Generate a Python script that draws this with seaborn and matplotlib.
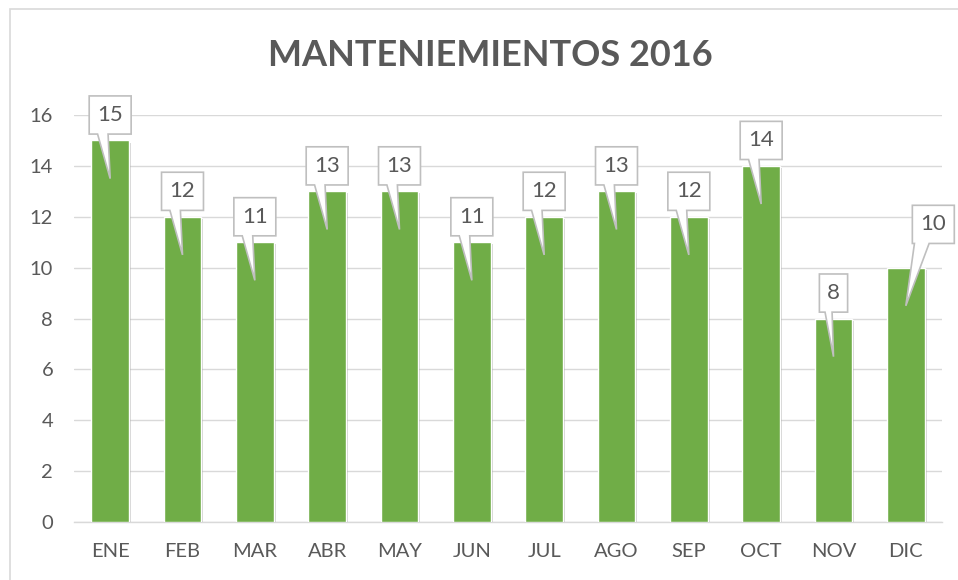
import matplotlib
matplotlib.use("Agg")
import matplotlib.pyplot as plt
import matplotlib.patheffects as pe
from matplotlib.patches import Polygon, Rectangle
import seaborn as sns
import pandas as pd

months = ["ENE", "FEB", "MAR", "ABR", "MAY", "JUN", "JUL", "AGO", "SEP", "OCT", "NOV", "DIC"]
values = [15, 12, 11, 13, 13, 11, 12, 13, 12, 14, 8, 10]
title = "MANTENIEMIENTOS 2016"
yticks = [0, 2, 4, 6, 8, 10, 12, 14, 16]

sns.set_theme(style="white")
plt.rcParams['font.family'] = ['Lato', 'DejaVu Sans']

GREEN = "#70AD47"
GRAY_TXT = "#595959"
GRID = "#D9D9D9"

fig = plt.figure(figsize=(9.58, 5.80), dpi=100)
W, H = 958, 580
ax = fig.add_axes([74 / W, 58 / H, 868 / W, 407 / H])

df = pd.DataFrame({"mes": months, "valor": values})
sns.barplot(data=df, x="mes", y="valor", color=GREEN, width=0.52, ax=ax,
            saturation=1, zorder=3)

for p in ax.patches:
    p.set_path_effects([pe.SimplePatchShadow(offset=(1.5, -1.5), shadow_rgbFace="#7f7f7f", alpha=0.35),
                        pe.Normal()])

ax.set_xlim(-0.5, len(months) - 0.5)
ax.set_ylim(0, 16)
ax.set_yticks(yticks)
ax.yaxis.grid(True, color=GRID, linewidth=1, zorder=0)
ax.set_axisbelow(True)
for s in ["top", "right", "left"]:
    ax.spines[s].set_visible(False)
ax.spines["bottom"].set_color(GRID)
ax.spines["bottom"].set_linewidth(1)
ax.tick_params(axis="both", length=0, colors=GRAY_TXT, labelsize=14.5)
ax.tick_params(axis="y", pad=15)
ax.tick_params(axis="x", pad=15)
ax.set_xlabel("")
ax.set_ylabel("")

# callouts
for i, v in enumerate(values):
    label = str(v)
    bw = 0.58 if len(label) > 1 else 0.39
    bh = 1.5
    dx = 0.38 if i == len(values) - 1 else 0.0
    dy = 1.7 if i == len(values) - 1 else 1.0
    cx = i + dx
    cy = v + dy
    x0, x1 = cx - bw / 2, cx + bw / 2
    y0, y1 = cy - bh / 2, cy + bh / 2
    if i == len(values) - 1:
        b1, b2 = x0 + 0.05 * bw, x0 + 0.40 * bw
    else:
        b1, b2 = x0 + 0.20 * bw, x0 + 0.45 * bw
    tip = (i, v - 1.5)
    verts = [(x0, y1), (x1, y1), (x1, y0), (b2, y0), tip, (b1, y0), (x0, y0)]
    poly = Polygon(verts, closed=True, facecolor="white", edgecolor="#BFBFBF",
                   linewidth=1.2, zorder=5, clip_on=False)
    ax.add_patch(poly)
    ax.text(cx, cy, label, ha="center", va="center", fontsize=16, color=GRAY_TXT,
            zorder=6, clip_on=False)

fig.text(490 / W, 1 - 56 / H, title, ha="center", va="center", fontsize=26,
         fontweight="bold", color=GRAY_TXT)

# chart border
fig.patches.append(Rectangle((10 / W, -0.1), 1.2, 1 - 9 / H + 0.1, transform=fig.transFigure,
                             fill=False, edgecolor="#D9D9D9", linewidth=1.2, zorder=0))

fig.savefig("out.png", dpi=100, facecolor="white")
